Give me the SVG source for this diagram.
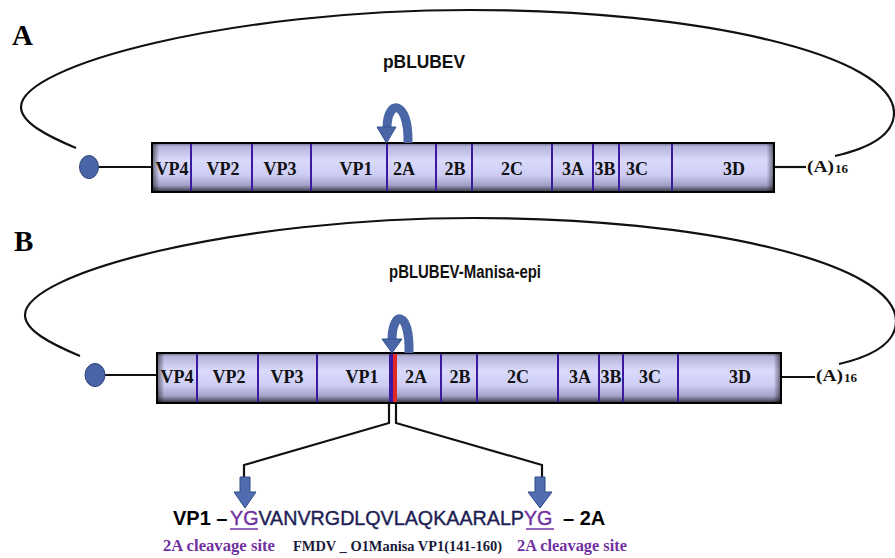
<svg xmlns="http://www.w3.org/2000/svg" width="895" height="558" viewBox="0 0 895 558">
<defs>
<linearGradient id="barV" x1="0" y1="0" x2="0" y2="1">
<stop offset="0" stop-color="#6a6a80"/>
<stop offset="0.07" stop-color="#b4b4dc"/>
<stop offset="0.35" stop-color="#dadafc"/>
<stop offset="0.65" stop-color="#cdcdf4"/>
<stop offset="0.86" stop-color="#a2a2c8"/>
<stop offset="1" stop-color="#30303a"/>
</linearGradient>
<linearGradient id="barH" x1="0" y1="0" x2="1" y2="0">
<stop offset="0" stop-color="#000" stop-opacity="0.55"/>
<stop offset="0.012" stop-color="#000" stop-opacity="0"/>
<stop offset="0.988" stop-color="#000" stop-opacity="0"/>
<stop offset="1" stop-color="#000" stop-opacity="0.55"/>
</linearGradient>
</defs>
<style>
.lbl{font-family:"Liberation Serif",serif;font-weight:bold;font-size:29px;fill:#000}
.seg{font-family:"Liberation Serif",serif;font-weight:bold;font-size:18px;fill:#111;text-anchor:middle}
.poly{font-family:"Liberation Serif",serif;font-weight:bold;font-size:17px;fill:#111}
.polyn{font-family:"Liberation Serif",serif;font-weight:bold;font-size:13px;fill:#111}
.title{font-family:"Liberation Sans",Arial,sans-serif;font-weight:bold;font-size:18px;fill:#111}
.bar{stroke:#000;stroke-width:2}
.div{stroke:#3a1aa0;stroke-width:2}
.wire{fill:none;stroke:#111;stroke-width:2.2}
.loop{fill:none;stroke:#111;stroke-width:2.2}
.cap{fill:#4a64a8;stroke:#2e4478;stroke-width:1}
.curv{fill:none;stroke:#4a66a6;stroke-width:9}
.head{fill:#4a66a6;stroke:#34508c;stroke-width:1}
.darr{fill:#4f6db0;stroke:#2f4a88;stroke-width:1}
.seq{font-family:"Liberation Sans",Arial,sans-serif;font-size:20px}
.sb{font-weight:bold;fill:#000}
.sm{font-size:19.7px;fill:#1f1f55;stroke:#1f1f55;stroke-width:0.4}
.sy{font-size:19.7px;fill:#7030a0;stroke:#7030a0;stroke-width:0.4}
.site{font-family:"Liberation Serif",serif;font-weight:bold;font-size:16.5px;fill:#7030a0}
.fmdv{font-family:"Liberation Serif",serif;font-weight:bold;font-size:15px;fill:#1a1a3a}
</style>

<!-- Panel A -->
<g id="labelA"><text class="lbl" x="12" y="45">A</text></g>
<g id="titleA"><text class="title" x="383" y="68" textLength="82" lengthAdjust="spacingAndGlyphs">pBLUBEV</text></g>

<g id="connectorsA">
<path id="loopA" class="loop" d="M 76 148 C 45 135, 21 122, 21 107 C 21 65, 230 10, 470 10 C 700 10, 894 55, 894 113 C 894 135, 870 148, 835 156"/>
<line class="wire" x1="99" y1="167" x2="152" y2="167"/>
<line class="wire" x1="774" y1="167" x2="806" y2="167"/>
</g>

<g id="capA"><ellipse class="cap" cx="89" cy="167" rx="9.5" ry="11.5"/></g>

<g id="genomeA">
<rect class="bar" x="152" y="143" width="622" height="49" fill="url(#barV)"/>
<rect x="152" y="143" width="622" height="49" fill="url(#barH)"/>
<rect class="bar" x="152" y="143" width="622" height="49" fill="none"/>
<g class="div">
<line x1="191" y1="144" x2="191" y2="191"/>
<line x1="252" y1="144" x2="252" y2="191"/>
<line x1="311" y1="144" x2="311" y2="191"/>
<line x1="387" y1="144" x2="387" y2="191"/>
<line x1="436" y1="144" x2="436" y2="191"/>
<line x1="472" y1="144" x2="472" y2="191"/>
<line x1="552" y1="144" x2="552" y2="191"/>
<line x1="593" y1="144" x2="593" y2="191"/>
<line x1="619" y1="144" x2="619" y2="191"/>
<line x1="672" y1="144" x2="672" y2="191"/>
</g>
<g id="segA-VP4"><text class="seg" x="172" y="175">VP4</text></g>
<g id="segA-VP2"><text class="seg" x="223" y="175">VP2</text></g>
<g id="segA-VP3"><text class="seg" x="280" y="175">VP3</text></g>
<g id="segA-VP1"><text class="seg" x="356" y="175">VP1</text></g>
<g id="segA-2A"><text class="seg" x="404" y="175">2A</text></g>
<g id="segA-2B"><text class="seg" x="455" y="175">2B</text></g>
<g id="segA-2C"><text class="seg" x="512" y="175">2C</text></g>
<g id="segA-3A"><text class="seg" x="573" y="175">3A</text></g>
<g id="segA-3B"><text class="seg" x="605" y="175">3B</text></g>
<g id="segA-3C"><text class="seg" x="637" y="175">3C</text></g>
<g id="segA-3D"><text class="seg" x="734" y="175">3D</text></g>
</g>

<g id="polyA"><text class="poly" x="807" y="172" textLength="27" lengthAdjust="spacingAndGlyphs">(A)</text><text class="polyn" x="835" y="173">16</text></g>

<g id="cleaveA">
<path class="curv" d="M 408 143 C 409 99, 387 99, 387 128"/>
<polygon class="head" points="377,127 396,127 386.5,143"/>
</g>

<!-- Panel B -->
<g id="labelB"><text class="lbl" x="14" y="251">B</text></g>
<g id="titleB"><text class="title" x="389" y="278" textLength="152" lengthAdjust="spacingAndGlyphs">pBLUBEV-Manisa-epi</text></g>

<g id="connectorsB">
<path id="loopB" class="loop" transform="translate(4,208)" d="M 76 148 C 45 135, 21 122, 21 107 C 21 65, 230 10, 470 10 C 700 10, 892 55, 892 113 C 892 135, 870 148, 835 156"/>
<line class="wire" x1="105" y1="375" x2="157" y2="375"/>
<line class="wire" x1="781" y1="377" x2="815" y2="377"/>
<path class="wire" d="M 389 403 V 423 L 244 465 V 478"/>
<path class="wire" d="M 396 403 V 423 L 542 465 V 478"/>
</g>

<g id="capB"><ellipse class="cap" cx="95" cy="375" rx="10" ry="11.5"/></g>

<g id="genomeB">
<rect class="bar" x="157" y="353" width="624" height="50" fill="url(#barV)"/>
<rect x="157" y="353" width="624" height="50" fill="url(#barH)"/>
<g class="div">
<line x1="197" y1="354" x2="197" y2="402"/>
<line x1="258" y1="354" x2="258" y2="402"/>
<line x1="317" y1="354" x2="317" y2="402"/>
<line x1="441" y1="354" x2="441" y2="402"/>
<line x1="477" y1="354" x2="477" y2="402"/>
<line x1="558" y1="354" x2="558" y2="402"/>
<line x1="599" y1="354" x2="599" y2="402"/>
<line x1="623" y1="354" x2="623" y2="402"/>
<line x1="678" y1="354" x2="678" y2="402"/>
</g>
<rect x="389" y="354" width="4" height="48" fill="#3a1aa0"/>
<rect x="393" y="354" width="4" height="48" fill="#e02828"/>
<rect class="bar" x="157" y="353" width="624" height="50" fill="none"/>
<g id="segB-VP4"><text class="seg" x="177" y="383">VP4</text></g>
<g id="segB-VP2"><text class="seg" x="229" y="383">VP2</text></g>
<g id="segB-VP3"><text class="seg" x="287" y="383">VP3</text></g>
<g id="segB-VP1"><text class="seg" x="362" y="383">VP1</text></g>
<g id="segB-2A"><text class="seg" x="416" y="383">2A</text></g>
<g id="segB-2B"><text class="seg" x="460" y="383">2B</text></g>
<g id="segB-2C"><text class="seg" x="518" y="383">2C</text></g>
<g id="segB-3A"><text class="seg" x="580" y="383">3A</text></g>
<g id="segB-3B"><text class="seg" x="611" y="383">3B</text></g>
<g id="segB-3C"><text class="seg" x="650" y="383">3C</text></g>
<g id="segB-3D"><text class="seg" x="740" y="383">3D</text></g>
</g>

<g id="polyB"><text class="poly" x="816" y="381" textLength="27" lengthAdjust="spacingAndGlyphs">(A)</text><text class="polyn" x="844" y="382">16</text></g>

<g id="cleaveB">
<path class="curv" d="M 409 353 C 410 310, 392 310, 392 340"/>
<polygon class="head" points="382,339 402,339 392,353"/>
</g>

<g id="arrowsDown">
<path class="darr" d="M 240 477 H 250 V 492 H 256 L 245 508 L 234 492 H 240 Z"/>
<path class="darr" d="M 535 477 H 545 V 492 H 552 L 540 508 L 528 492 H 535 Z"/>
</g>

<g id="sequence">
<text class="seq" x="173" y="525"><tspan class="sb">VP1 –</tspan><tspan class="sy" x="230">YG</tspan><tspan class="sm">VANVRGDLQVLAQKAARALP</tspan><tspan class="sy">YG</tspan><tspan class="sb" x="563">– 2A</tspan></text>
<line x1="230" y1="529" x2="258" y2="529" stroke="#7030a0" stroke-width="1.5"/>
<line x1="526" y1="529" x2="554" y2="529" stroke="#7030a0" stroke-width="1.5"/>
</g>

<g id="siteLabels">
<text class="site" x="163" y="551" textLength="112" lengthAdjust="spacingAndGlyphs">2A cleavage site</text>
<text class="fmdv" x="293" y="551" textLength="209" lengthAdjust="spacingAndGlyphs">FMDV _ O1Manisa VP1(141-160)</text>
<text class="site" x="517" y="551" textLength="110" lengthAdjust="spacingAndGlyphs">2A cleavage site</text>
</g>
</svg>
